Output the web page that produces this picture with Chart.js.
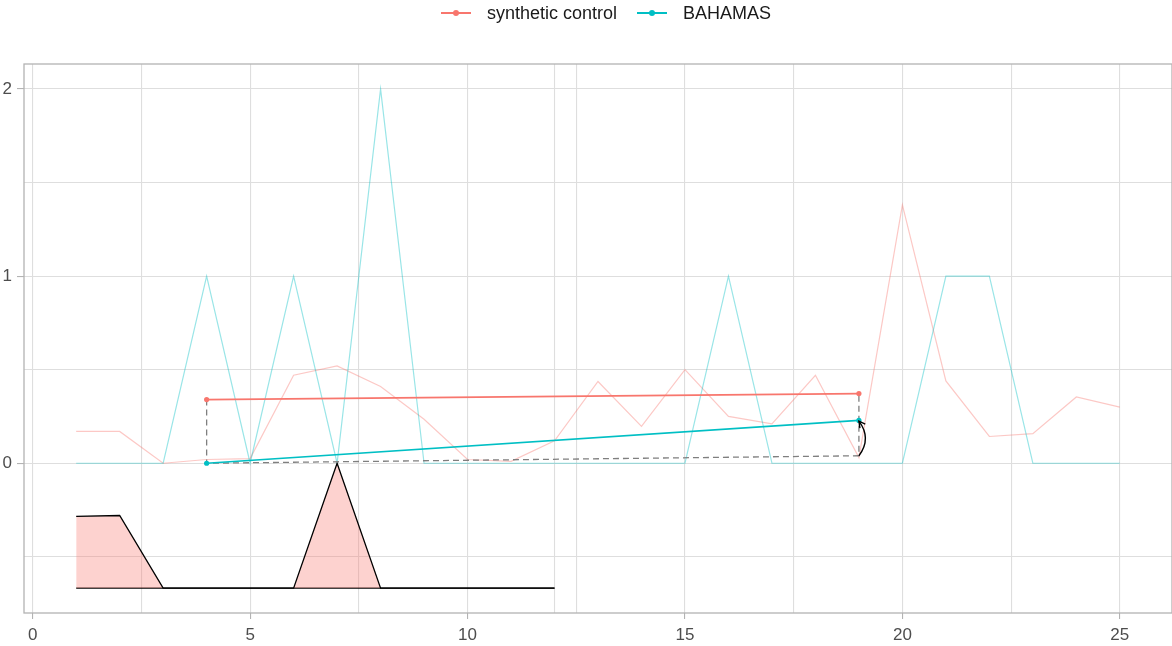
<!DOCTYPE html>
<html>
<head>
<meta charset="utf-8">
<script src="https://cdn.jsdelivr.net/npm/chart.js@4.4.1/dist/chart.umd.min.js"></script>
<style>
  html, body { margin: 0; padding: 0; background: #fff; overflow: hidden; }
  #wrap { position: relative; width: 1172px; height: 646px; overflow: hidden; font-family: 'Liberation Sans', Arial, sans-serif; }
  #chart { position: absolute; left: 0; top: 0; }
  .item { position: absolute; top: 2px; height: 22px; display: flex; align-items: center; font-size: 18px; color: #1a1a1a; white-space: nowrap; }
  .key { position: relative; width: 30px; height: 22px; margin-right: 16px; }
  .key .ln { position: absolute; left: 0; right: 0; top: 10px; height: 2px; }
  .key .dot { position: absolute; left: 12px; top: 8px; width: 6px; height: 6px; border-radius: 50%; }
</style>
</head>
<body>
<div id="wrap">
  <canvas id="chart" width="1176" height="646"></canvas>
  <div class="item" style="left:441px">
    <span class="key"><span class="ln" style="background:#F8766D"></span><span class="dot" style="background:#F8766D"></span></span>synthetic control
  </div>
  <div class="item" style="left:637px">
    <span class="key"><span class="ln" style="background:#00BFC4"></span><span class="dot" style="background:#00BFC4"></span></span>BAHAMAS
  </div>
</div>
<script>
// Yearly series
const years = [1, 2, 3, 4, 5, 6, 7, 8, 9, 10, 11, 12, 13, 14, 15, 16, 17, 18, 19, 20, 21, 22, 23, 24, 25];
const synthetic = [0.17, 0.17, 0.0, 0.02, 0.025, 0.47, 0.52, 0.41, 0.235, 0.02, 0.01, 0.12, 0.437, 0.197, 0.5, 0.25, 0.21, 0.47, 0.03, 1.38, 0.44, 0.143, 0.158, 0.354, 0.30];
const bahamas = [0, 0, 0, 1, 0, 1, 0, 2, 0, 0, 0, 0, 0, 0, 0, 1, 0, 0, 0, 0, 1, 1, 0, 0, 0];

// Weight profile drawn beneath the series
const weightYears = [1, 2, 3, 4, 5, 6, 7, 8, 9, 10, 11, 12];
const weightTop = [-0.284, -0.279, -0.667, -0.667, -0.667, -0.667, 0.0, -0.667, -0.667, -0.667, -0.667, -0.667];
const weightBase = -0.667;
const cutoffYear = 12;

// Trend segments between the two comparison years
const trendYears = [4, 19];
const synthTrend = [0.34, 0.372];
const bahamasTrend = [0.0, 0.229];
const gapTrend = [0.0, 0.04];
const arrowYear = 19;
const arrowFrom = 0.04;
const arrowTo = 0.225;

// Axis breaks
const xTicks = [0, 2.5, 5, 7.5, 10, 12.5, 15, 17.5, 20, 22.5, 25];
const xLabels = [0, 5, 10, 15, 20, 25];
const yTicks = [-0.5, 0, 0.5, 1, 1.5, 2];
const yLabels = [0, 1, 2];

const RED = '#F8766D', CYAN = '#00BFC4';
const FONT = "'Liberation Sans', Arial, sans-serif";

const pts = (xs, ys) => xs.map((x, i) => ({ x, y: ys[i] }));

const gapPath = [
  { x: trendYears[0], y: synthTrend[0] },
  { x: trendYears[0], y: gapTrend[0] },
  { x: trendYears[1], y: gapTrend[1] },
  { x: trendYears[1], y: synthTrend[1] }
];

const panelPlugin = {
  id: 'panel',
  beforeDatasetsDraw(chart) {
    const { ctx, chartArea: a, scales: { x } } = chart;
    const px = x.getPixelForValue(cutoffYear);
    ctx.save();
    ctx.strokeStyle = '#dedede';
    ctx.lineWidth = 1.1;
    ctx.beginPath();
    ctx.moveTo(px, a.top);
    ctx.lineTo(px, a.bottom);
    ctx.stroke();
    ctx.restore();
  },
  afterDatasetsDraw(chart) {
    const { ctx, scales: { x, y } } = chart;
    // curved arrow from the gap level up to the BAHAMAS end point
    const px = x.getPixelForValue(arrowYear);
    const y0 = y.getPixelForValue(arrowFrom);
    const y1 = y.getPixelForValue(arrowTo);
    const cx = px + 13, cy = (y0 + y1) / 2;
    ctx.save();
    ctx.strokeStyle = '#000';
    ctx.lineWidth = 1.4;
    ctx.beginPath();
    ctx.moveTo(px, y0);
    ctx.quadraticCurveTo(cx, cy, px, y1);
    ctx.stroke();
    const ang = Math.atan2(y1 - cy, px - cx);
    const len = 7;
    ctx.beginPath();
    ctx.moveTo(px - len * Math.cos(ang - 0.5), y1 - len * Math.sin(ang - 0.5));
    ctx.lineTo(px, y1);
    ctx.lineTo(px - len * Math.cos(ang + 0.5), y1 - len * Math.sin(ang + 0.5));
    ctx.stroke();
    ctx.restore();
  },
  afterDraw(chart) {
    const { ctx, chartArea: a } = chart;
    ctx.save();
    ctx.strokeStyle = '#b3b3b3';
    ctx.lineWidth = 1.3;
    ctx.strokeRect(a.left, a.top, a.right - a.left, a.bottom - a.top);
    ctx.restore();
  }
};

new Chart(document.getElementById('chart'), {
  type: 'line',
  data: {
    datasets: [
      { label: 'synthetic control (yearly)', data: pts(years, synthetic), borderColor: 'rgba(248,118,109,0.4)', borderWidth: 1.2, pointRadius: 0, tension: 0, order: 6 },
      { label: 'BAHAMAS (yearly)', data: pts(years, bahamas), borderColor: 'rgba(0,191,196,0.4)', borderWidth: 1.2, pointRadius: 0, tension: 0, order: 5 },
      { label: 'weights', data: pts(weightYears, weightTop), borderColor: '#000', borderWidth: 1.3, pointRadius: 0, fill: '+1', backgroundColor: 'rgba(248,118,109,0.33)', order: 4 },
      { label: 'weights base', data: pts(weightYears, weightYears.map(() => weightBase)), borderColor: '#000', borderWidth: 1.3, pointRadius: 0, fill: false, order: 4 },
      { label: 'gap', data: gapPath, borderColor: '#7f7f7f', borderWidth: 1.3, borderDash: [6, 4], pointRadius: 0, fill: false, order: 3 },
      { label: 'synthetic control', data: pts(trendYears, synthTrend), borderColor: RED, backgroundColor: RED, borderWidth: 1.6, pointRadius: 2.6, pointBorderWidth: 0, fill: false, order: 2 },
      { label: 'BAHAMAS', data: pts(trendYears, bahamasTrend), borderColor: CYAN, backgroundColor: CYAN, borderWidth: 1.6, pointRadius: 2.6, pointBorderWidth: 0, fill: false, order: 1 }
    ]
  },
  options: {
    responsive: false,
    animation: false,
    layout: { padding: { top: 64, right: 1, left: 0, bottom: 0 } },
    plugins: { legend: { display: false }, tooltip: { enabled: false } },
    scales: {
      x: {
        type: 'linear', min: -0.2, max: 26.2,
        afterBuildTicks: s => { s.ticks = xTicks.map(v => ({ value: v })); },
        afterFit: s => { s.height = 33; s.paddingLeft = 0; s.paddingRight = 0; },
        border: { display: false },
        grid: {
          color: '#dedede', lineWidth: 1.1, tickLength: 6,
          tickColor: c => xLabels.includes(c.tick.value) ? '#b3b3b3' : 'rgba(0,0,0,0)'
        },
        ticks: {
          autoSkip: false, maxRotation: 0, padding: 6, color: '#4d4d4d',
          font: { family: FONT, size: 17 },
          callback: v => xLabels.includes(v) ? String(v) : ''
        }
      },
      y: {
        type: 'linear', min: -0.8, max: 2.133,
        afterBuildTicks: s => { s.ticks = yTicks.map(v => ({ value: v })); },
        afterFit: s => { s.width = 24; s.paddingTop = 0; s.paddingBottom = 0; },
        border: { display: false },
        grid: {
          color: '#dedede', lineWidth: 1.1, tickLength: 7,
          tickColor: c => yLabels.includes(c.tick.value) ? '#b3b3b3' : 'rgba(0,0,0,0)'
        },
        ticks: {
          autoSkip: false, padding: 5, color: '#4d4d4d',
          font: { family: FONT, size: 17 },
          callback: v => yLabels.includes(v) ? String(v) : ''
        }
      }
    }
  },
  plugins: [panelPlugin]
});
</script>
</body>
</html>
